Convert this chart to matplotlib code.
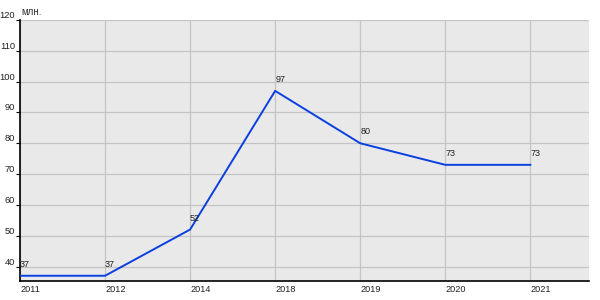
import matplotlib
matplotlib.use("Agg")
import matplotlib.pyplot as plt

plt.rcParams["font.family"] = ["Liberation Sans", "DejaVu Sans"]

# data
years = ["2011", "2012", "2014", "2018", "2019", "2020", "2021"]
values = [37, 37, 52, 97, 80, 73, 73]
y_ticks = [40, 50, 60, 70, 80, 90, 100, 110, 120]
unit_label = "млн."

fig = plt.figure(figsize=(6, 3), dpi=100)
ax = fig.add_axes([20 / 600, 19 / 300, 569 / 600, 261 / 300])
ax.set_facecolor("#e9e9e9")

x = list(range(len(years)))
ax.plot(x, values, color="#0a3fe0", lw=1.4, zorder=3)
for xi, v in zip(x, values):
    ax.annotate(str(v), (xi, v), xytext=(0, 5), textcoords="offset points",
                fontsize=6.5, color="#222222", ha="left", va="bottom",
                zorder=4)

ax.set_xlim(0, 6.69)
ax.set_ylim(35.3, 120)
ax.set_xticks(x)
ax.set_xticklabels(years, fontsize=6.6, ha="left", color="#222222")
ax.set_yticks(y_ticks)
ax.set_yticklabels([str(t) for t in y_ticks], fontsize=6.7, va="bottom",
                   color="#222222")
ax.tick_params(axis="x", length=0, pad=3)
ax.tick_params(axis="y", length=3, width=0.8, pad=0.5)
ax.grid(True, color="#c4c4c4", lw=0.9)
ax.set_axisbelow(True)

for s in ["top", "right"]:
    ax.spines[s].set_visible(False)
for s in ["left", "bottom"]:
    ax.spines[s].set_color("black")
    ax.spines[s].set_linewidth(1.2)

fig.text(21 / 600, 1 - 12 / 300, unit_label, fontsize=7, color="#333333",
         ha="left", va="center")

fig.savefig("out.png", dpi=100)
